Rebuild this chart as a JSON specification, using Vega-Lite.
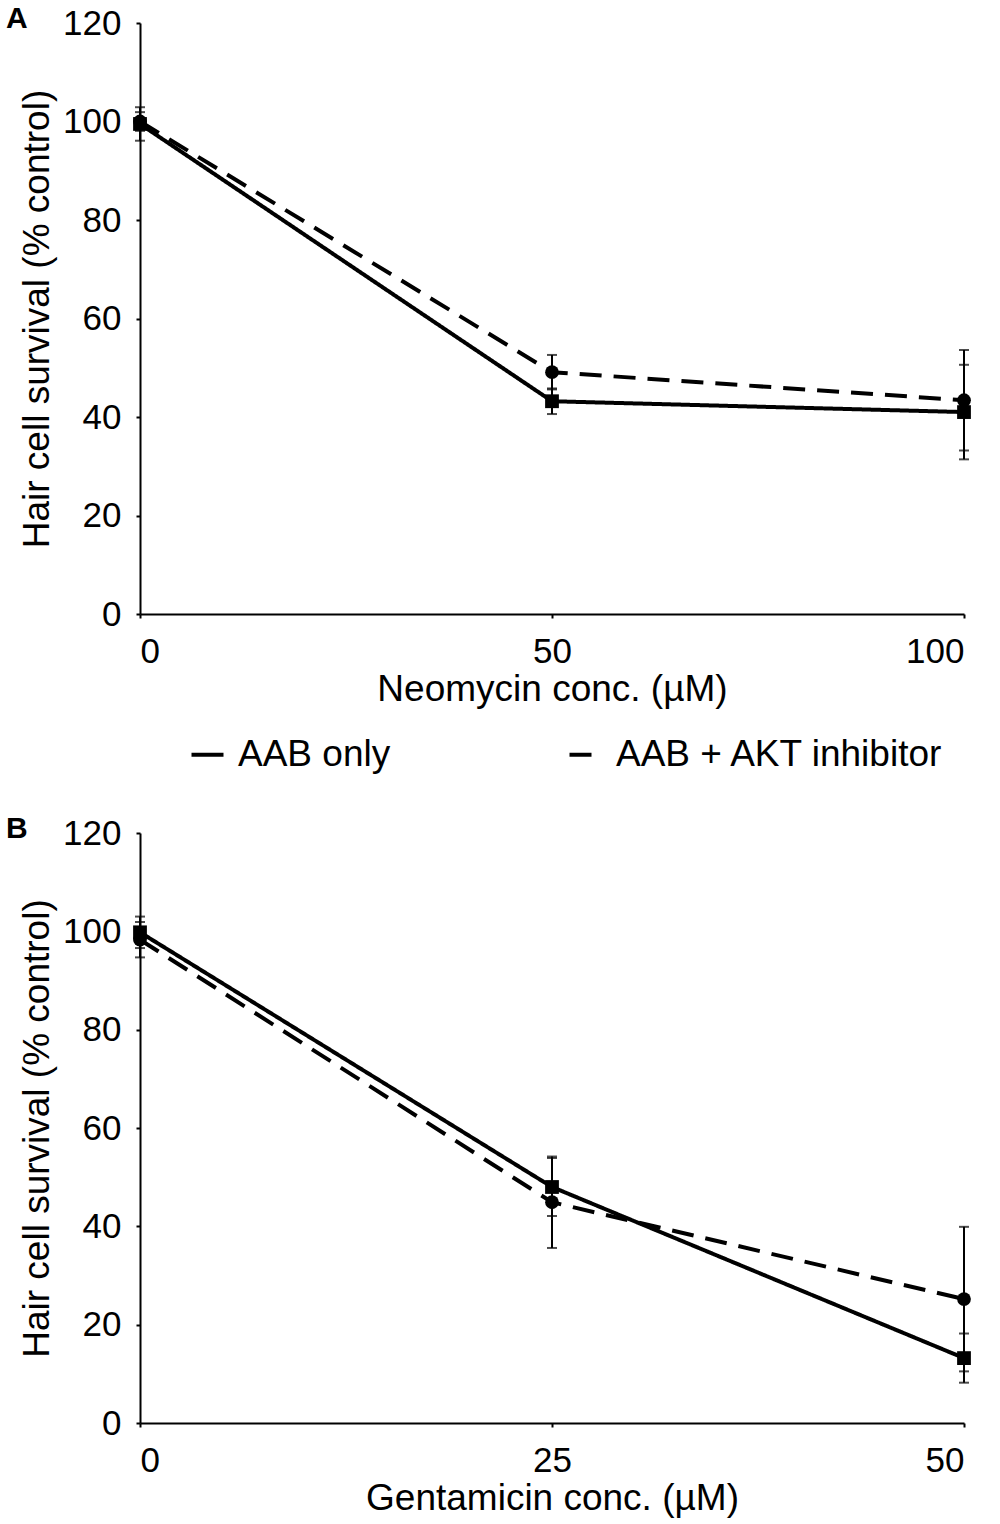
{
  "$schema": "https://vega.github.io/schema/vega-lite/v6.json",
  "padding": {"left": 6, "top": 4, "right": 5, "bottom": 5},
  "spacing": 41,
  "config": {
    "font": "Liberation Sans",
    "view": {"stroke": null},
    "axis": {
      "grid": false,
      "domainColor": "black",
      "domainWidth": 2,
      "tickColor": "black",
      "tickWidth": 2,
      "tickSize": 4,
      "labelFontSize": 35,
      "labelColor": "black",
      "titleFontSize": 37,
      "titleFontWeight": "normal",
      "titleColor": "black"
    },
    "axisX": {"labelPadding": 16, "titlePadding": 2},
    "axisY": {"labelPadding": 15, "titlePadding": 6},
    "legend": {
      "labelFontSize": 37,
      "labelColor": "black",
      "labelLimit": 0,
      "symbolType": "stroke",
      "symbolStrokeWidth": 4,
      "symbolStrokeColor": "black",
      "symbolSize": 1024,
      "labelOffset": 12,
      "padding": 0
    }
  },
  "datasets": {
    "neo": [
      {"series": "AAB only", "conc": 0, "mean": 99.5, "sd": 3.4},
      {"series": "AAB only", "conc": 50, "mean": 43.2, "sd": 2.6},
      {"series": "AAB only", "conc": 100, "mean": 41.0, "sd": 9.6},
      {"series": "AAB + AKT inhibitor", "conc": 0, "mean": 100.0, "sd": 1.9},
      {"series": "AAB + AKT inhibitor", "conc": 50, "mean": 49.1, "sd": 3.5},
      {"series": "AAB + AKT inhibitor", "conc": 100, "mean": 43.4, "sd": 10.2}
    ],
    "gen": [
      {"series": "AAB only", "conc": 0, "mean": 99.8, "sd": 3.2},
      {"series": "AAB only", "conc": 25, "mean": 48.0, "sd": 5.9},
      {"series": "AAB only", "conc": 50, "mean": 13.2, "sd": 5.0},
      {"series": "AAB + AKT inhibitor", "conc": 0, "mean": 98.3, "sd": 3.6},
      {"series": "AAB + AKT inhibitor", "conc": 25, "mean": 44.9, "sd": 9.3},
      {"series": "AAB + AKT inhibitor", "conc": 50, "mean": 25.2, "sd": 14.7}
    ]
  },
  "resolve": {
    "scale": {"x": "independent", "y": "independent", "strokeDash": "independent"},
    "legend": {"strokeDash": "independent"}
  },
  "vconcat": [
    {
      "width": 824,
      "height": 591,
      "title": {"text": "A", "anchor": "start", "frame": "group", "dx": -134, "offset": -28, "fontSize": 30, "fontWeight": "bold", "color": "black"},
      "data": {"name": "neo"},
      "encoding": {
        "x": {"field": "conc", "type": "quantitative", "scale": {"domain": [0, 100]}, "axis": {"values": [0, 50, 100], "title": "Neomycin conc. (µM)"}},
        "y": {"field": "mean", "type": "quantitative", "scale": {"domain": [0, 120]}, "axis": {"values": [0, 20, 40, 60, 80, 100, 120], "title": "Hair cell survival (% control)"}}
      },
      "layer": [
        {
          "mark": {"type": "line", "strokeWidth": 4, "color": "black"},
          "encoding": {
            "strokeDash": {"field": "series", "type": "nominal", "sort": null,
              "scale": {"domain": ["AAB only", "AAB + AKT inhibitor"], "range": [[1, 0], [22, 12]]},
              "legend": {"title": null, "orient": "none", "legendX": 49, "legendY": 713, "direction": "horizontal", "columns": 2, "columnPadding": 170, "symbolType": "stroke"}}
          }
        },
        {
          "mark": {"type": "errorbar", "color": "black", "ticks": {"size": 10, "thickness": 2, "color": "black"}, "rule": {"strokeWidth": 2, "color": "black"}},
          "encoding": {"yError": {"field": "sd"}}
        },
        {
          "transform": [{"filter": "datum.series === 'AAB only'"}],
          "mark": {"type": "point", "shape": "square", "filled": true, "opacity": 1, "color": "black", "size": 190}
        },
        {
          "transform": [{"filter": "datum.series === 'AAB + AKT inhibitor'"}],
          "mark": {"type": "point", "shape": "circle", "filled": true, "opacity": 1, "color": "black", "size": 190}
        },
        {
          "data": {"values": [{}]},
          "mark": {"type": "text", "fontSize": 36, "color": "black", "baseline": "alphabetic", "align": "center"},
          "encoding": {
            "x": {"datum": 50, "type": "quantitative"},
            "y": {"datum": 115, "type": "quantitative"},
            "text": {"value": "Neomycin"}
          }
        }
      ]
    },
    {
      "width": 824,
      "height": 590,
      "title": {"text": "B", "anchor": "start", "frame": "group", "dx": -134, "offset": -28, "fontSize": 30, "fontWeight": "bold", "color": "black"},
      "data": {"name": "gen"},
      "encoding": {
        "x": {"field": "conc", "type": "quantitative", "scale": {"domain": [0, 50]}, "axis": {"values": [0, 25, 50], "title": "Gentamicin conc. (µM)"}},
        "y": {"field": "mean", "type": "quantitative", "scale": {"domain": [0, 120]}, "axis": {"values": [0, 20, 40, 60, 80, 100, 120], "title": "Hair cell survival (% control)"}}
      },
      "layer": [
        {
          "mark": {"type": "line", "strokeWidth": 4, "color": "black"},
          "encoding": {
            "strokeDash": {"field": "series", "type": "nominal", "sort": null,
              "scale": {"domain": ["AAB only", "AAB + AKT inhibitor"], "range": [[1, 0], [22, 12]]},
              "legend": null}
          }
        },
        {
          "mark": {"type": "errorbar", "color": "black", "ticks": {"size": 10, "thickness": 2, "color": "black"}, "rule": {"strokeWidth": 2, "color": "black"}},
          "encoding": {"yError": {"field": "sd"}}
        },
        {
          "transform": [{"filter": "datum.series === 'AAB only'"}],
          "mark": {"type": "point", "shape": "square", "filled": true, "opacity": 1, "color": "black", "size": 190}
        },
        {
          "transform": [{"filter": "datum.series === 'AAB + AKT inhibitor'"}],
          "mark": {"type": "point", "shape": "circle", "filled": true, "opacity": 1, "color": "black", "size": 190}
        },
        {
          "data": {"values": [{}]},
          "mark": {"type": "text", "fontSize": 36, "color": "black", "baseline": "alphabetic", "align": "center"},
          "encoding": {
            "x": {"datum": 25, "type": "quantitative"},
            "y": {"datum": 115, "type": "quantitative"},
            "text": {"value": "Gentamicin"}
          }
        }
      ]
    }
  ]
}
